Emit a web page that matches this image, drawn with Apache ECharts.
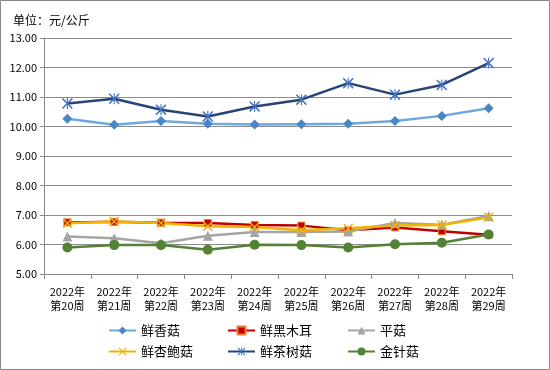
<!DOCTYPE html>
<html><head><meta charset="utf-8">
<script src="https://cdn.jsdelivr.net/npm/echarts@6/dist/echarts.min.js"></script>
<style>html,body{margin:0;padding:0;background:#fff}#c{width:550px;height:370px}</style>
</head><body><div id="c"></div>
<script>
const categories = ['2022年\n第20周','2022年\n第21周','2022年\n第22周','2022年\n第23周','2022年\n第24周','2022年\n第25周','2022年\n第26周','2022年\n第27周','2022年\n第28周','2022年\n第29周'];
const xiangGu = [10.26,10.06,10.19,10.09,10.07,10.08,10.09,10.19,10.36,10.62];
const heiMuEr = [6.75,6.77,6.74,6.73,6.66,6.64,6.48,6.58,6.45,6.33];
const pingGu = [6.27,6.21,6.04,6.30,6.42,6.42,6.44,6.73,6.67,6.97];
const xingBaoGu = [6.72,6.78,6.73,6.62,6.59,6.48,6.55,6.64,6.66,6.92];
const chaShuGu = [10.78,10.94,10.57,10.34,10.68,10.91,11.47,11.08,11.41,12.15];
const jinZhenGu = [5.90,5.98,5.98,5.82,5.99,5.98,5.90,6.01,6.06,6.34];
const yTicks = {min:5, max:13, interval:1};

const font = '"Noto Sans CJK SC", "Noto Sans", sans-serif';
const xPath = 'path://M0,1 L1,0 L5,4 L9,0 L10,1 L6,5 L10,9 L9,10 L5,6 L1,10 L0,9 L4,5 Z';
const starPath = 'path://M0,1 L1,0 L5,4 L9,0 L10,1 L6,5 L10,9 L9,10 L5,6 L1,10 L0,9 L4,5 Z M4.5,0 L5.5,0 L5.5,10 L4.5,10 Z';

function mk(name, data, lineColor, symbol, symColor, border, size){
  return {name, type:'line', data, symbol, symbolSize:size,
    lineStyle:{color:lineColor, width:2.5},
    itemStyle:{color:symColor, borderColor:border||symColor, borderWidth:border?1:0},
    emphasis:{disabled:true}, animation:false};
}
const series = [
  mk('鲜香菇', xiangGu, '#6FA8DC', 'diamond', '#4A86C5', null, 10),
  mk('鲜黑木耳', heiMuEr, '#C00000', 'rect', '#C00000', '#ED7D31', 7),
  mk('平菇', pingGu, '#A5A5A5', 'triangle', '#A5A5A5', null, 10),
  mk('鲜杏鲍菇', xingBaoGu, '#F2B200', xPath, '#F2B200', null, 10),
  mk('鲜茶树菇', chaShuGu, '#264478', starPath, '#4472C4', null, 11),
  mk('金针菇', jinZhenGu, '#548235', 'circle', '#548235', null, 10),
];
const pos = [[108,324],[227,324],[347,324],[108,345],[227,345],[347,345]];
const legends = series.map((s,i)=>({data:[s.name], left:pos[i][0], top:pos[i][1], padding:0, itemWidth:27, itemHeight:10, itemGap:5,
  textStyle:{fontFamily:font, fontSize:13, color:'#000'}, selectedMode:false}));

const chart = echarts.init(document.getElementById('c'));
chart.setOption({
  animation:false,
  title:{text:'单位：元/公斤', left:8, top:9, textStyle:{fontFamily:font, fontSize:12, fontWeight:'normal', color:'#000'}},
  grid:{left:44, right:38, top:38, bottom:96, containLabel:false},
  legend: legends,
  xAxis:{type:'category', data:categories, boundaryGap:true,
    axisLine:{lineStyle:{color:'#888', width:1}},
    axisTick:{show:true, length:5, lineStyle:{color:'#888'}},
    axisLabel:{fontFamily:font, fontSize:11, color:'#000', lineHeight:14, margin:11, interval:0}},
  yAxis:{type:'value', min:yTicks.min, max:yTicks.max, interval:yTicks.interval,
    axisLine:{show:true, lineStyle:{color:'#888'}},
    axisTick:{show:true, length:4, lineStyle:{color:'#888'}},
    splitLine:{lineStyle:{color:'#8c8c8c', width:1}},
    axisLabel:{fontFamily:font, fontSize:11, color:'#000', margin:7, formatter:v=>v.toFixed(2)}},
  series,
  graphic:[{type:'rect', shape:{x:0.5,y:0.5,width:549,height:369}, style:{fill:null, stroke:'#888', lineWidth:1}, silent:true}]
});
</script></body></html>
